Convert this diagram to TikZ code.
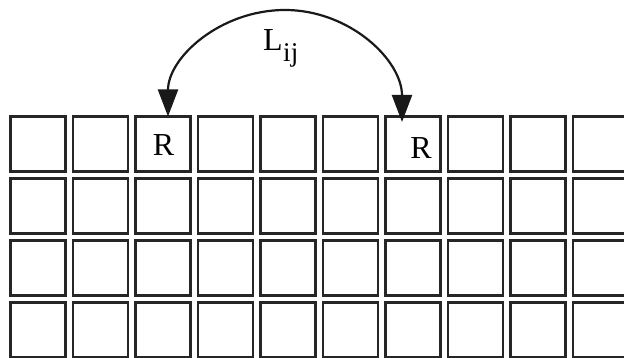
\documentclass[tikz,border=0pt]{standalone}
\usepackage{fontspec}
\setmainfont{Liberation Serif}
\usetikzlibrary{arrows.meta}
\begin{document}
\begin{tikzpicture}[x=1pt,y=-1pt,
  cell/.style={draw=black!85, line width=2.2pt, minimum width=55pt, minimum height=55pt,
               inner sep=0pt, outer sep=0pt},
  lbl/.style={font=\fontsize{32}{32}\selectfont, inner sep=0pt, anchor=base},
  tri/.tip={Triangle[width=20pt,length=27pt]},
  link/.style={line width=2.2pt, black!90, tri-tri}]
\useasboundingbox (0,0) rectangle (624,358);
% grid of cells
\foreach \r in {0,...,3}
  \foreach \c in {0,...,9}
    \node[cell] (b-\r-\c) at ({10.5+62.5*\c+27.5},{116.5+62*\r+27.5}) {};
% cell labels
\node[lbl] (r1) at (163.5,156) {R};
\node[lbl] (r2) at (421,158.3) {R};
% link between the two R cells
\coordinate (top) at (285,10);
\draw[link] ([xshift=5pt]b-0-2.north) .. controls +(0,-59) and +(-64.6,0) .. (top)
  .. controls +(64.6,0) and +(0,-62) .. ([xshift=-11pt,yshift=-5.5pt]b-0-6.north);
\node[lbl, anchor=base west] (lij) at (263,51)
  {L\kern0.5pt\raisebox{-11pt}{\fontsize{27}{27}\selectfont ij}};
\end{tikzpicture}
\end{document}
